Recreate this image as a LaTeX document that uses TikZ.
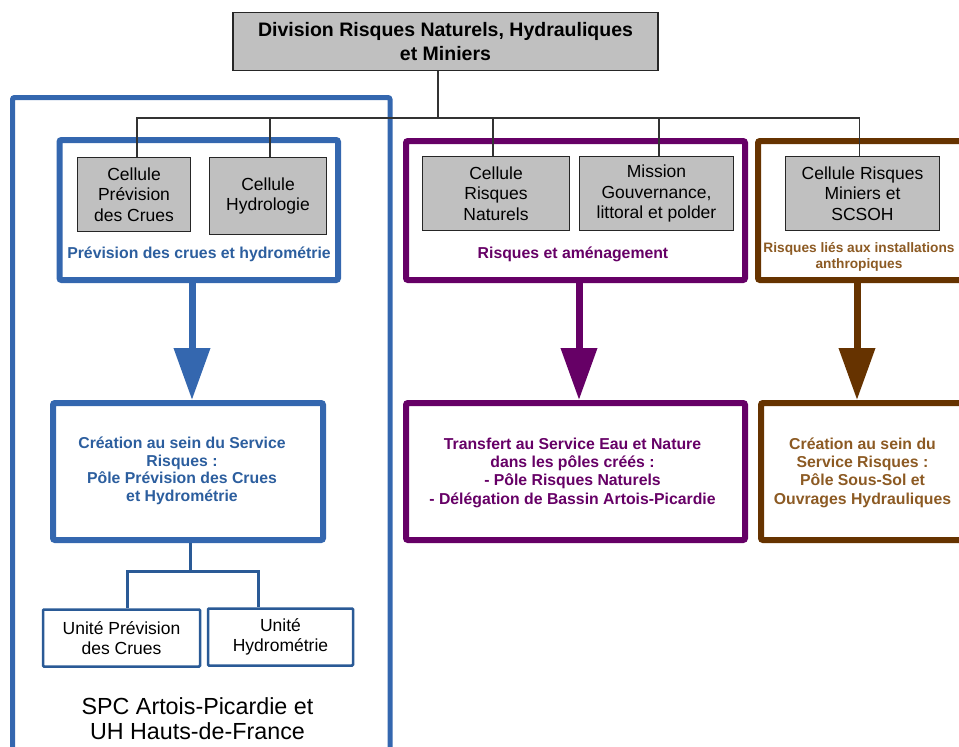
\documentclass[tikz,border=0pt]{standalone}
\usepackage{fontspec}
\setmainfont{Liberation Sans}
\usetikzlibrary{arrows.meta}
\definecolor{gfill}{HTML}{C0C0C0}
\definecolor{cblue}{HTML}{3467AF}
\definecolor{tblue}{HTML}{2C5E9E}
\definecolor{lblue}{HTML}{2A5A96}
\definecolor{cpurple}{HTML}{660066}
\definecolor{cbrown}{HTML}{663300}
\definecolor{tbrown}{HTML}{8C5A23}
\tikzset{
  gbox/.style={draw=black!85, fill=gfill, line width=1.3pt, inner sep=0pt, align=center,
    font=\fontsize{17.5}{20.5}\selectfont},
  cont/.style={draw, line width=6pt, rounded corners=2pt, inner sep=0pt},
  unitbox/.style={draw=lblue, line width=2.5pt, rounded corners=1pt, inner sep=0pt, align=center,
    font=\fontsize{17.5}{20}\selectfont},
  lbl/.style={align=center, inner sep=0pt, font=\bfseries\fontsize{15.8}{17.5}\selectfont},
  tree/.style={draw=black!80, line width=1.2pt},
  bigarr/.style={line width=7pt, -{Triangle[width=35pt,length=52pt]}},
}
\begin{document}
\begin{tikzpicture}[x=1pt,y=-1pt]
\useasboundingbox (0,0) rectangle (959,747);
% containers
\node[cont, draw=cblue, line width=5pt, minimum width=377.5pt, minimum height=662.5pt] (outer) at (201.25,428.75) {};
\node[cont, draw=cblue, minimum width=278.5pt, minimum height=140pt] (c1) at (198.75,210) {};
\node[cont, draw=cpurple, minimum width=339pt, minimum height=139pt] (c2) at (575.5,210.5) {};
\node[cont, draw=cbrown, minimum width=217pt, minimum height=139pt] (c3) at (866.5,210.5) {};
\node[cont, draw=cblue, minimum width=270pt, minimum height=137pt] (d1) at (188,471.5) {};
\node[cont, draw=cpurple, minimum width=339pt, minimum height=137pt] (d2) at (575.5,471.5) {};
\node[cont, draw=cbrown, minimum width=214pt, minimum height=137pt] (d3) at (868,471.5) {};
% top
\node[gbox, font=\bfseries\fontsize{19.5}{23.5}\selectfont, minimum width=425pt, minimum height=58.5pt] (top) at (445.5,41.5)
  {Division Risques Naturels, Hydrauliques\\et Miniers};
% gray cells
\node[gbox, minimum width=113pt, minimum height=74pt] (cp) at (134,194.5) {Cellule\\Prévision\\des Crues};
\node[gbox, minimum width=117pt, minimum height=77pt] (ch) at (268,196) {Cellule\\Hydrologie};
\node[gbox, minimum width=147pt, minimum height=74pt] (cr) at (496,193.5) {Cellule\\Risques\\Naturels};
\node[gbox, minimum width=154pt, minimum height=74pt] (cm) at (656.5,193.5) {Mission\\Gouvernance,\\littoral et polder};
\node[gbox, minimum width=154pt, minimum height=74pt] (cx) at (862.5,193.5) {Cellule Risques\\Miniers et\\SCSOH};
% tree
\coordinate (j0) at (438,118);
\draw[tree] ([xshift=-7.5pt]top.south) -- (j0);
\draw[tree] (j0) -| ([xshift=3pt]cp.north);
\draw[tree] (j0) -| ([xshift=2pt]ch.north);
\draw[tree] (j0) -| ([xshift=-3pt]cr.north);
\draw[tree] (j0) -| ([xshift=2.5pt]cm.north);
\draw[tree] (j0) -| ([xshift=-3pt]cx.north);
% labels in containers
\node[lbl, text=tblue] (l1) at (199,254) {Prévision des crues et hydrométrie};
\node[lbl, text=cpurple] (l2) at (573,254) {Risques et aménagement};
\node[lbl, text=tbrown, font=\bfseries\fontsize{13.7}{16}\selectfont] (l3) at (859,257) {Risques liés aux installations\\anthropiques};
% arrows
\draw[bigarr, cblue] ([xshift=-6.75pt]c1.south) -- ([xshift=4pt]d1.north);
\draw[bigarr, cpurple] ([xshift=3.5pt]c2.south) -- ([xshift=3.5pt]d2.north);
\draw[bigarr, cbrown] ([xshift=-9.5pt]c3.south) -- ([xshift=-11pt]d3.north);
% lower texts
\node[lbl, text=tblue] (t1) at (182,471) {Création au sein du Service\\Risques :\\Pôle Prévision des Crues\\et Hydrométrie};
\node[lbl, text=cpurple, font=\bfseries\fontsize{15.8}{18.3}\selectfont] (t2) at (572.5,472.5) {Transfert au Service Eau et Nature\\dans les pôles créés :\\- Pôle Risques Naturels\\- Délégation de Bassin Artois-Picardie};
\node[lbl, text=tbrown, font=\bfseries\fontsize{15.8}{18.3}\selectfont] (t3) at (862.5,472.5) {Création au sein du\\Service Risques :\\Pôle Sous-Sol et\\Ouvrages Hydrauliques};
% units
\node[unitbox, minimum width=157pt, minimum height=57pt] (u1) at (121.5,638) {Unité Prévision\\des Crues};
\node[unitbox, minimum width=145pt, minimum height=57pt] (u2) at (280.5,637) {Unité\\Hydrométrie};
\coordinate (j1) at (190,571);
\draw[draw=lblue, line width=3pt] ([xshift=2pt]d1.south) -- (j1);
\draw[draw=lblue, line width=3pt] (j1) -| ([xshift=5.5pt]u1.north);
\draw[draw=lblue, line width=3pt] (j1) -| ([xshift=-22.5pt]u2.north);
% bottom label
\node[align=center, inner sep=0pt, font=\fontsize{23.3}{25}\selectfont] (spc) at (197.5,719) {SPC Artois-Picardie et\\UH Hauts-de-France};
\end{tikzpicture}
\end{document}
